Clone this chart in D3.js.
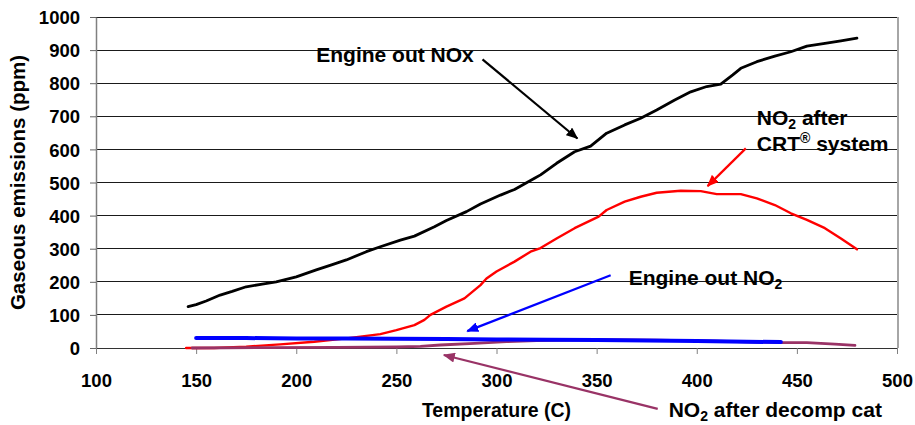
<!DOCTYPE html>
<html>
<head>
<meta charset="utf-8">
<script src="https://cdn.jsdelivr.net/npm/d3@7"></script>
<style>
body{margin:0;background:#fff}
svg text{font-family:"Liberation Sans",Arial,sans-serif;font-weight:bold;fill:#000}
</style>
</head>
<body>
<svg id="chart"></svg>
<script>
// values (temperature in C, emissions in ppm)
var noxTemp = [146,150,155,162,168,175,183,190,200,210,218,225,235,242,252,259,269,275,285,292,302,309,319,322,330,339,347,355,364,372,380,389,397,405,412,418,422,430,439,447,455,464,472,480];
var noxVals = [125,131,142,160,171,185,193,200,215,236,252,266,291,306,326,338,366,385,412,435,462,479,513,523,558,593,610,649,674,694,719,749,774,790,797,825,845,865,882,895,912,920,928,936];

var redTemp = [145,159,175,192,209,225,242,250,259,264,267,275,284,292,295,300,309,317,322,330,339,351,355,364,372,380,392,402,410,422,430,439,447,455,464,472,480];
var redVals = [0,0,4,11,19,29,42,54,69,85,100,125,150,190,210,231,261,291,302,331,362,397,417,442,457,469,475,474,465,465,452,432,407,387,362,331,298];

var blueTemp = [150,175,200,225,250,275,300,325,350,375,400,425,442];
var blueVals = [30,30,29,29,28,27,26,25,24,23,21,19,18];

var purpleTemp = [148,185,220,250,262,272,289,305,320,350,380,410,430,443,455,462,469,479];
var purpleVals = [0,1,2,3,5,9,14,19,22,25,24,21,18,16,16,14,12,8];

var xTicks = [100,150,200,250,300,350,400,450,500];
var yTicks = [0,100,200,300,400,500,600,700,800,900,1000];

var makePoints = function(temps,vals)
{
    return temps.map(function(t,i){ return {t:t,v:vals[i]}; });
}

var series = [
    {name:"nox", color:"#000000", width:2.8, pts:makePoints(noxTemp,noxVals)},
    {name:"crt", color:"#ff0000", width:2.4, pts:makePoints(redTemp,redVals)},
    {name:"decomp", color:"#993366", width:2.8, pts:makePoints(purpleTemp,purpleVals)},
    {name:"engine", color:"#0000ff", width:4, pts:makePoints(blueTemp,blueVals)}
];

var screen = {width:915,height:425};
var margins = {left:96,right:18,top:17,bottom:77};
var graph = {
    width:screen.width-margins.left-margins.right,
    height:screen.height-margins.top-margins.bottom
};

var svg = d3.select("#chart")
    .attr("width",screen.width)
    .attr("height",screen.height);

var xScale = d3.scaleLinear().domain([100,500]).range([0,graph.width]);
var yScale = d3.scaleLinear().domain([0,1000]).range([graph.height,0]);

var target = svg.append("g")
    .attr("transform","translate("+margins.left+","+margins.top+")");

// gridlines
target.append("g").selectAll("line")
    .data(yTicks.slice(1))
    .enter()
    .append("line")
    .attr("x1",0)
    .attr("x2",graph.width)
    .attr("y1",function(d){ return yScale(d); })
    .attr("y2",function(d){ return yScale(d); })
    .attr("stroke","#1a1a1a")
    .attr("stroke-width",1)
    .attr("shape-rendering","crispEdges");

// right border
target.append("line")
    .attr("x1",graph.width+1).attr("x2",graph.width+1)
    .attr("y1",0).attr("y2",graph.height)
    .attr("stroke","#a6a6a6")
    .attr("stroke-width",2);

// axes
var yAxis = d3.axisLeft(yScale).tickValues(yTicks).tickFormat(d3.format("d"))
    .tickSize(6).tickSizeOuter(0).tickPadding(10);
var yG = target.append("g").call(yAxis);
var xAxis = d3.axisBottom(xScale).tickValues(xTicks).tickFormat(d3.format("d"))
    .tickSize(6).tickSizeOuter(0);
var xG = target.append("g")
    .attr("transform","translate(0,"+graph.height+")")
    .call(xAxis);

yG.select(".domain").attr("stroke","#808080").attr("stroke-width",1.5);
xG.select(".domain").attr("stroke","#333").attr("stroke-width",1.2);
yG.selectAll(".tick line").attr("stroke","#666");
xG.selectAll(".tick line").attr("stroke","#808080");
yG.selectAll(".tick text").attr("font-size","18.5px").attr("font-family",null).attr("dy","0.36em");
xG.selectAll(".tick text").attr("font-size","18.5px").attr("font-family",null)
    .attr("y",39).attr("dy",null);

// series
var line = d3.line()
    .x(function(d){ return xScale(d.t); })
    .y(function(d){ return yScale(d.v); });

target.selectAll("path.series")
    .data(series)
    .enter()
    .append("path")
    .classed("series",true)
    .attr("d",function(s){ return line(s.pts); })
    .attr("fill","none")
    .attr("stroke",function(s){ return s.color; })
    .attr("stroke-width",function(s){ return s.width; })
    .attr("stroke-linejoin","round")
    .attr("stroke-linecap","round");

// arrow markers
var defs = svg.append("defs");
["#000000","#ff0000","#0000ff","#993366"].forEach(function(c,i)
{
    defs.append("marker")
        .attr("id","arrow"+i)
        .attr("markerUnits","userSpaceOnUse")
        .attr("markerWidth",12).attr("markerHeight",10)
        .attr("refX",11).attr("refY",5)
        .attr("orient","auto")
        .append("path")
        .attr("d","M0,0 L12,5 L0,10 Z")
        .attr("fill",c);
});

var arrows = [
    {from:[293,872], to:[340.4,633], marker:0, color:"#000000"},
    {from:[424.5,603], to:[405.4,489], marker:1, color:"#ff0000"},
    {from:[357,220], to:[285.4,51], marker:2, color:"#0000ff"},
    {from:[380.5,-184], to:[273.7,-21], marker:3, color:"#993366"}
];
target.selectAll("line.arrow")
    .data(arrows)
    .enter()
    .append("line")
    .classed("arrow",true)
    .attr("x1",function(a){ return xScale(a.from[0]); })
    .attr("y1",function(a){ return yScale(a.from[1]); })
    .attr("x2",function(a){ return xScale(a.to[0]); })
    .attr("y2",function(a){ return yScale(a.to[1]); })
    .attr("stroke",function(a){ return a.color; })
    .attr("stroke-width",2.2)
    .attr("marker-end",function(a){ return "url(#arrow"+a.marker+")"; });

// annotations
var addNO2 = function(textSel,rest)
{
    textSel.append("tspan").text("NO");
    textSel.append("tspan").text("2").attr("font-size","14px").attr("dy",4);
    textSel.append("tspan").text(rest).attr("dy",-4);
}

target.append("text")
    .attr("x",xScale(210)).attr("y",yScale(864))
    .attr("font-size","21px")
    .text("Engine out NOx");

var crt1 = target.append("text")
    .attr("x",xScale(430)).attr("y",yScale(674))
    .attr("font-size","21px");
addNO2(crt1," after");

var crt2 = target.append("text")
    .attr("x",xScale(430)).attr("y",yScale(595))
    .attr("font-size","21px");
crt2.append("tspan").text("CRT");
crt2.append("tspan").text("®").attr("font-size","14px").attr("dy",-8);
crt2.append("tspan").text(" system").attr("dy",8);

var eng = target.append("text")
    .attr("x",xScale(366)).attr("y",yScale(190))
    .attr("font-size","21px");
eng.append("tspan").text("Engine out NO");
eng.append("tspan").text("2").attr("font-size","14px").attr("dy",4);

var dec = target.append("text")
    .attr("x",xScale(386)).attr("y",yScale(-208))
    .attr("font-size","21px");
addNO2(dec," after decomp cat");

// axis titles
target.append("text")
    .attr("x",xScale(300)).attr("y",yScale(-208))
    .attr("text-anchor","middle")
    .attr("font-size","19.5px")
    .text("Temperature (C)");

svg.append("text")
    .attr("text-anchor","middle")
    .attr("font-size","20.5px")
    .attr("transform","translate(25,"+(margins.top+yScale(500))+") rotate(-90)")
    .text("Gaseous emissions (ppm)");
</script>
</body>
</html>
